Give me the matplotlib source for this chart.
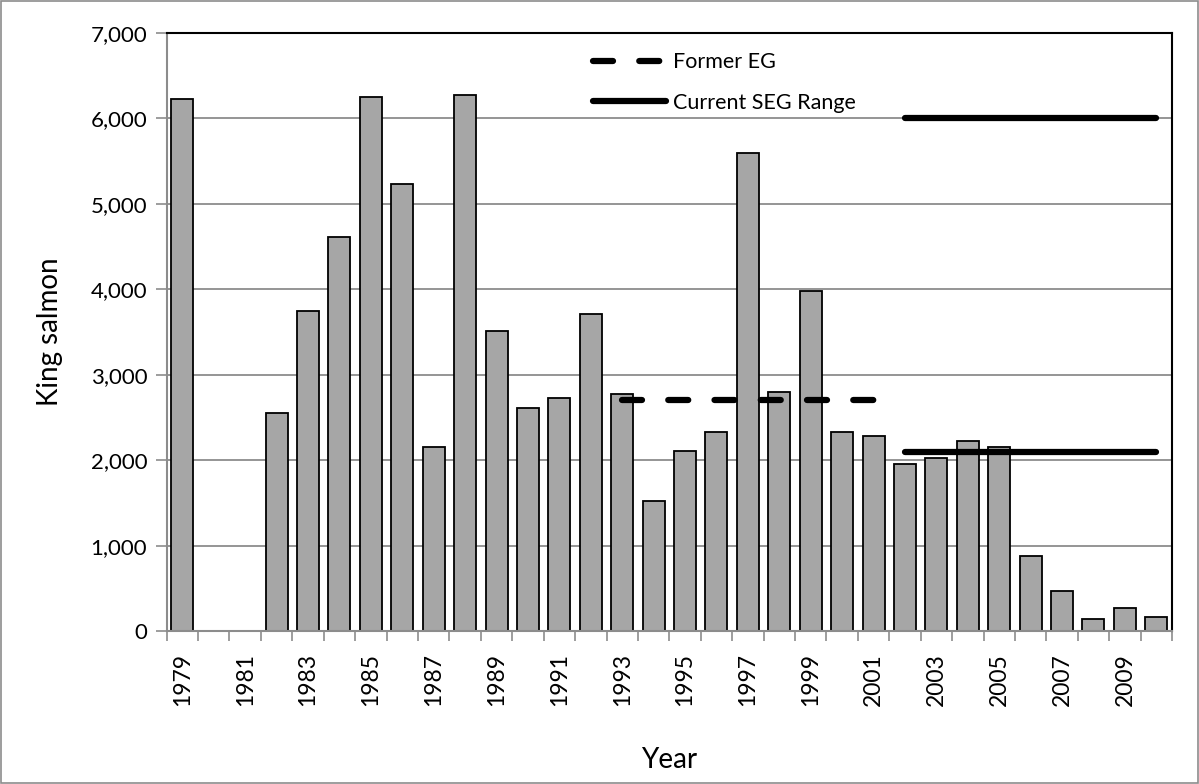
import numpy as np
import matplotlib
matplotlib.use("Agg")
import matplotlib.pyplot as plt
from matplotlib.patches import Rectangle

plt.rcParams['font.family'] = ['Lato', 'DejaVu Sans']

years = list(range(1979, 2011))
escapement = [6227, np.nan, np.nan, 2548, 3745, 4613, 6254, 5227, 2154, 6277,
              3508, 2606, 2726, 3707, 2776, 1518, 2104, 2328, 5595, 2803,
              3977, 2328, 2282, 1954, 2029, 2230, 2155, 874, 475, 147,
              273, 168]
tick_years = [str(y) for y in years[::2]]

former_eg_years = (1993, 2001)
former_eg = 2700
seg_years = (2002, 2010)
seg_low, seg_high = 2100, 6000

fig = plt.figure(figsize=(11.99, 7.84), dpi=100)
ax = fig.add_axes([0.139, 0.195, 0.8385, 0.763])

x = np.arange(len(years))
ax.bar(x, np.nan_to_num(escapement), width=0.7, color='#a6a6a6',
       edgecolor='black', linewidth=1.3, zorder=2)

idx = {y: i for i, y in enumerate(years)}
ax.plot([idx[former_eg_years[0]], idx[former_eg_years[1]]], [former_eg] * 2,
        color='black', lw=4.5, ls=(0, (3.2, 4.2)), dash_capstyle='round',
        zorder=3, label='Former EG')
ax.plot([idx[seg_years[0]], idx[seg_years[1]]], [seg_low] * 2,
        color='black', lw=4.5, solid_capstyle='round', zorder=3,
        label='Current SEG Range')
ax.plot([idx[seg_years[0]], idx[seg_years[1]]], [seg_high] * 2,
        color='black', lw=4.5, solid_capstyle='round', zorder=3)

ax.set_xlim(-0.5, len(years) - 0.5)
ax.set_ylim(0, 7000)
ax.set_yticks(range(0, 7001, 1000))
ax.set_yticklabels([f'{v:,}' for v in range(0, 7001, 1000)], fontsize=16)
ax.yaxis.grid(True, color='#8c8c8c', lw=1.3, zorder=0)
ax.tick_params(axis='y', length=8, width=1.2, color='#8c8c8c', pad=6)

ax.set_xticks(x[::2])
ax.set_xticklabels(tick_years, rotation=90, fontsize=16.5)
ax.set_xticks(np.arange(-0.5, len(years)), minor=True)
ax.tick_params(axis='x', which='major', length=0, pad=16)
ax.tick_params(axis='x', which='minor', length=7, width=1.2, color='#8c8c8c')

for s in ['top', 'right']:
    ax.spines[s].set_color('black')
    ax.spines[s].set_linewidth(1.5)
for s in ['left', 'bottom']:
    ax.spines[s].set_color('#8c8c8c')
    ax.spines[s].set_linewidth(1.5)

ax.set_ylabel('King salmon', fontsize=20, labelpad=20)
ax.set_xlabel('Year', fontsize=20, labelpad=29)

leg = ax.legend(loc='upper left', bbox_to_anchor=(0.405, 1.0), frameon=False,
                fontsize=15.5, handlelength=3.4, labelspacing=0.95,
                handletextpad=0.3)

fig.patches.append(Rectangle((0.001, 0.001), 0.998, 0.998, transform=fig.transFigure,
                             fill=False, edgecolor='#8c8c8c', lw=1.2))

fig.savefig('out.png', dpi=100)
